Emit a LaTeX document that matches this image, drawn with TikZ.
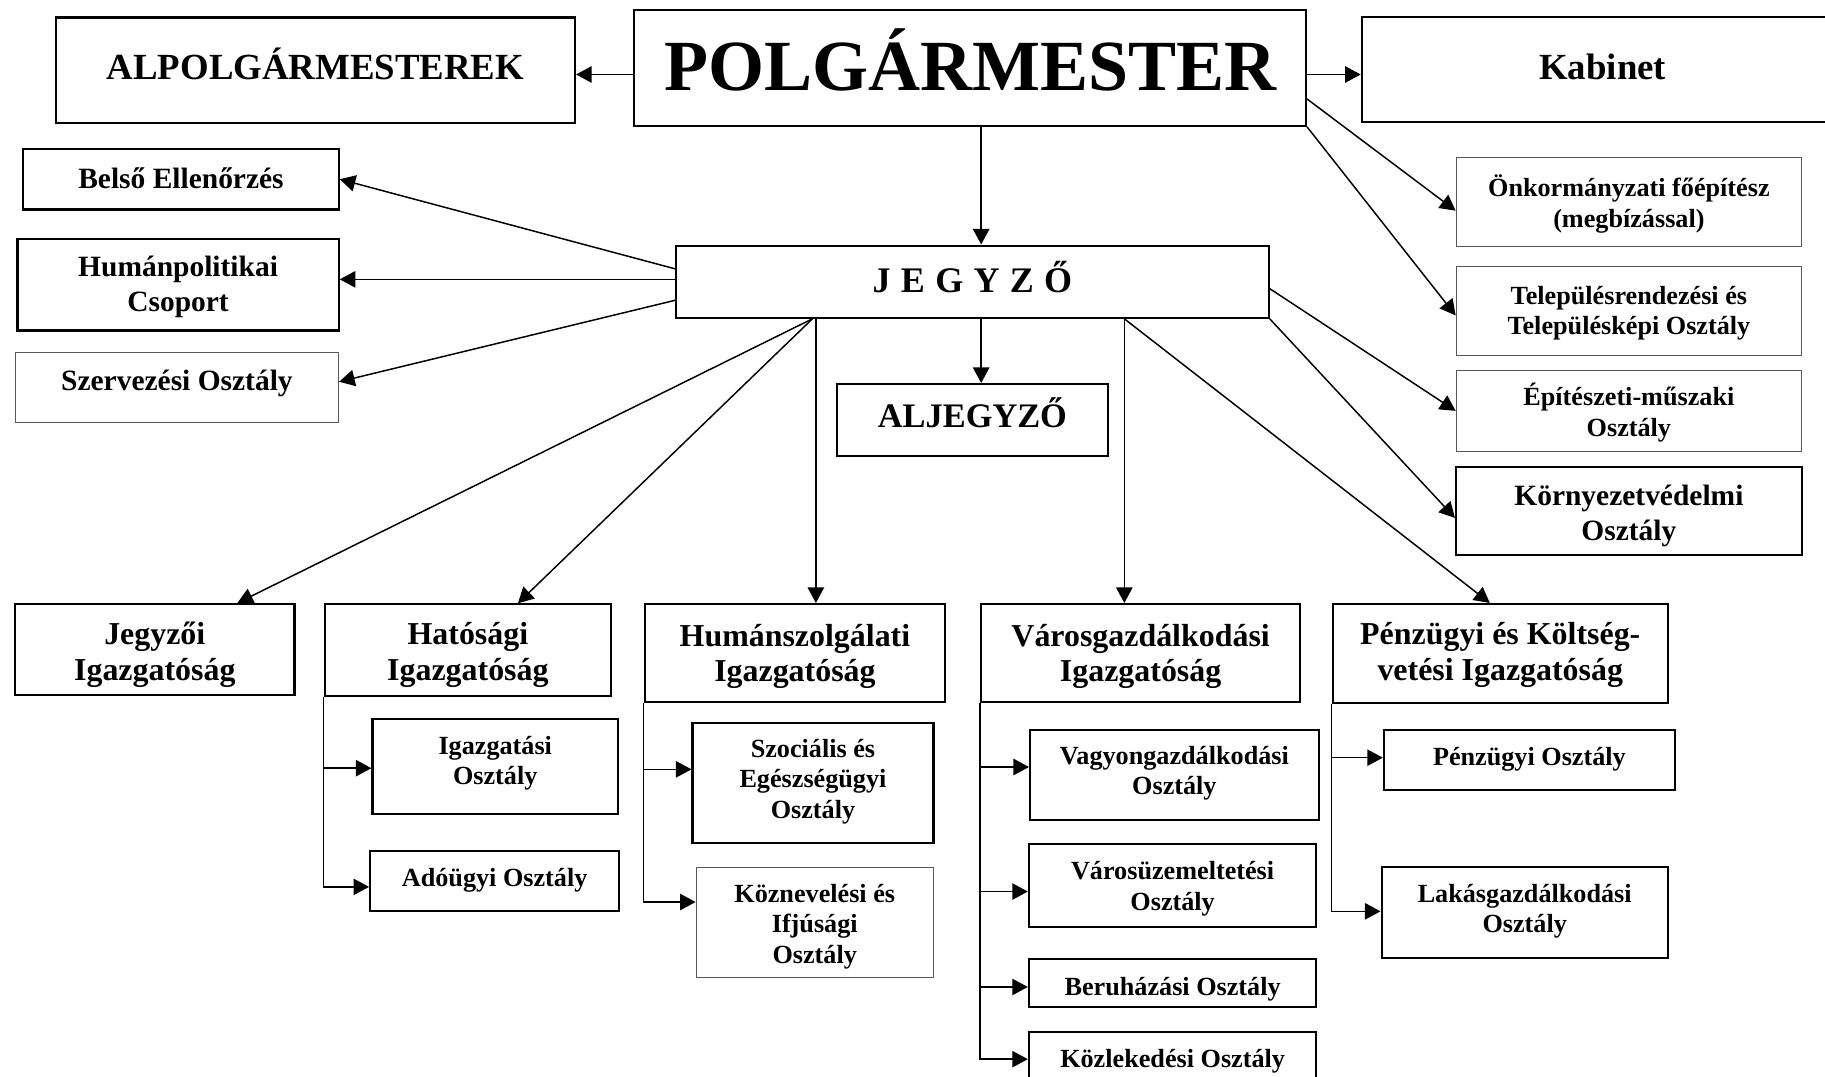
\documentclass[tikz,border=0pt]{standalone}
\usepackage{fontspec}
\setmainfont{Liberation Serif}
\usetikzlibrary{arrows.meta}

\begin{document}
\begin{tikzpicture}[
  x=0.025cm, y=-0.025cm,
  every node/.style={align=center, inner sep=0pt},
  box/.style={draw, line width=1.3pt},
  thin box/.style={draw=black!65, line width=0.5pt},
  wh/.style 2 args={minimum width=#1*0.025cm, minimum height=#2*0.025cm},
  drop/.style={text depth=0pt, text height=#1},
  head font/.style={font=\fontsize{44}{50}\selectfont\bfseries},
  upper font/.style={font=\fontsize{22.5}{27}\selectfont\bfseries},
  jegyzo font/.style={font=\fontsize{22}{26}\selectfont\bfseries},
  side font/.style={font=\fontsize{18}{21.3}\selectfont\bfseries},
  unit font/.style={font=\fontsize{19.5}{21.8}\selectfont\bfseries},
  dept font/.style={font=\fontsize{16}{18.6}\selectfont\bfseries},
  solid edge/.style={draw, line width=0.9pt, -{Triangle[length=9.5pt,width=10pt]}}
]
\useasboundingbox (0,0) rectangle (1568,925);
% Define the nodes
\node[box, head font, wh={577}{99.4}, drop=0.98cm] (polg) at (833.5,58.3) {POLGÁRMESTER};
\node[box, upper font, wh={446}{90.4}, drop=0.425cm] (alpolg) at (271,60.2) {ALPOLGÁRMESTEREK};
\node[box, upper font, wh={414}{90.7}, drop=0.435cm] (kabinet) at (1377,59.7) {Kabinet};
\node[box, side font, wh={271}{52}, drop=0.39cm] (belso) at (155.5,154) {Belső Ellenőrzés};
\node[box, side font, wh={276}{79}, drop=1.165cm] (humanpol) at (153,244.5) {Humánpolitikai\\Csoport};
\node[thin box, side font, wh={278}{60.5}, drop=0.105cm] (szerv) at (152,333) {Szervezési Osztály};
\node[box, jegyzo font, wh={509}{62}, drop=0.46cm] (jegyzo) at (835.5,242) {\spaceskip=6.3pt J E G Y Z Ő};
\node[box, upper font, wh={233}{62}, drop=0.32cm] (aljegyzo) at (835.5,361) {\fontsize{21}{25}\selectfont ALJEGYZŐ};
\node[thin box, dept font, wh={297}{76.5}, drop=1.1cm] (foepitesz) at (1399.5,173.3) {Önkormányzati főépítész\\(megbízással)};
\node[thin box, dept font, wh={297}{76}, drop=1.04cm] (telep) at (1399.5,267) {Településrendezési és\\Településképi Osztály};
\node[thin box, dept font, wh={297}{70}, drop=1.08cm] (epit) at (1399.5,353) {Építészeti-műszaki\\Osztály};
\node[box, side font, wh={297}{76}, drop=1.25cm] (korny) at (1399.5,439) {\baselineskip=20.4pt Környezetvédelmi\\Osztály};
% Define the directorates
\node[box, unit font, wh={240}{78}, drop=1.315cm] (jegyzoi) at (133,558) {Jegyzői\\Igazgatóság};
\node[box, unit font, wh={246}{78.5}, drop=1.29cm] (hatosagi) at (402,558.5) {Hatósági\\Igazgatóság};
\node[box, unit font, wh={258}{84.4}, drop=1.225cm] (humansz) at (683,561.2) {Humánszolgálati\\Igazgatóság};
\node[box, unit font, wh={274}{84.4}, drop=1.225cm] (varosg) at (980,561.2) {Városgazdálkodási\\Igazgatóság};
\node[box, unit font, wh={288}{84.7}, drop=1.15cm] (penzig) at (1289,561.3) {Pénzügyi és Költség-\\vetési Igazgatóság};
% Define the departments
\node[box, dept font, wh={211}{81.4}, drop=0.785cm] (igazg) at (425.5,658.7) {Igazgatási\\Osztály};
\node[box, dept font, wh={214}{51.7}, drop=0.25cm] (adougyi) at (425,756.8) {Adóügyi Osztály};
\node[box, dept font, wh={207}{103.7}, drop=1.52cm] (szoc) at (698.5,672.7) {Szociális és\\Egészségügyi\\Osztály};
\node[thin box, dept font, wh={204}{94.5}, drop=1.75cm] (koznev) at (700,792.7) {Köznevelési és\\Ifjúsági\\Osztály};
\node[box, dept font, wh={248}{77.3}, drop=0.86cm] (vagyon) at (1009,665.8) {Vagyongazdálkodási\\Osztály};
\node[box, dept font, wh={247}{71.3}, drop=1.045cm] (varosuz) at (1007.5,761) {Városüzemeltetési\\Osztály};
\node[box, dept font, wh={247}{41.5}, drop=0.51cm] (beruh) at (1007.5,844.7) {Beruházási Osztály};
\node[box, dept font, wh={247}{50}, drop=0.275cm] (kozlek) at (1007.5,911.4) {Közlekedési Osztály};
\node[box, dept font, wh={250}{51.6}, drop=0.215cm] (penzo) at (1314,653) {Pénzügyi Osztály};
\node[box, dept font, wh={246}{78.2}, drop=0.88cm] (lakas) at (1310,783.7) {Lakásgazdálkodási\\Osztály};
% Define the edges
\draw[solid edge] (polg.west |- 0,64) -- (alpolg.east |- 0,64);
\draw[solid edge] (polg.east |- 0,64) -- (kabinet.west |- 0,64);
\draw[solid edge] (polg.south -| 843,0) -- (jegyzo.north -| 843,0);
\draw[solid edge] (polg.east |- 0,85) -- (foepitesz.west |- 0,181);
\draw[solid edge] (polg.south east) -- (telep.west |- 0,271);
\draw[solid edge] (jegyzo.west |- 0,231) -- (belso.east);
\draw[solid edge] (jegyzo.west |- 0,240) -- (humanpol.east |- 0,240);
\draw[solid edge] (jegyzo.west |- 0,258) -- (szerv.east |- 0,328);
\draw[solid edge] (jegyzo.south -| 698,0) -- (jegyzoi.north -| 204,0);
\draw[solid edge] (jegyzo.south -| 698,0) -- (hatosagi.north -| 445,0);
\draw[solid edge] (jegyzo.south -| 701,0) -- (humansz.north -| 701,0);
\draw[solid edge] (jegyzo.south -| 843,0) -- (aljegyzo.north -| 843,0);
\draw[solid edge] (jegyzo.south -| 966,0) -- (varosg.north -| 966,0);
\draw[solid edge] (jegyzo.south -| 966,0) -- (penzig.north -| 1280,0);
\draw[solid edge] (jegyzo.east |- 0,248) -- (epit.west);
\draw[solid edge] (jegyzo.south east) -- (korny.west |- 0,445);
% Define the department branches
\draw[solid edge] (hatosagi.south west) |- (igazg.west |- 0,660);
\draw[solid edge] (hatosagi.south west) |- (adougyi.west |- 0,762);
\draw[solid edge] (humansz.south west) |- (szoc.west |- 0,661);
\draw[solid edge] (humansz.south west) |- (koznev.west |- 0,775);
\draw[solid edge] (varosg.south west) |- (vagyon.west |- 0,659);
\draw[solid edge] (varosg.south west) |- (varosuz.west |- 0,766);
\draw[solid edge] (varosg.south west) |- (beruh.west |- 0,848);
\draw[solid edge] (varosg.south west) |- (kozlek.west |- 0,910);
\draw[solid edge] (penzig.south west) |- (penzo.west |- 0,651);
\draw[solid edge] (penzig.south west) |- (lakas.west |- 0,783);
\end{tikzpicture}
\end{document}
